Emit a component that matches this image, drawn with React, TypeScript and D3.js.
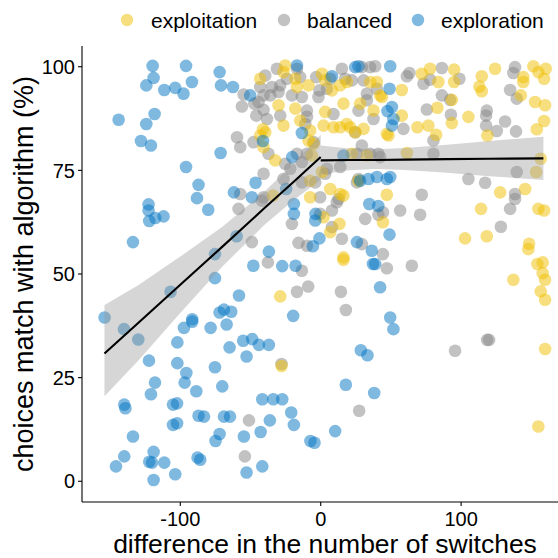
import React from "react";
import * as d3 from "d3";

// ---- data (difference in switches, % match) ----
const groups = ["exploitation", "balanced", "exploration"];
const groupColors = ["#EFC000", "#868686", "#0073C2"];

const exploitationX = [-27.9,16.2,-28.8,137.2,154.3,158.1,158.1,159.8,156.7,159.8,159.8,155,147.9,102.8,118.3,148.4,114.2,155,159.1,145.6,127.8,47.1,44.3,153.4,156.7,72,77.9,95,83.8,95,114.7,113,114.7,124.2,144.3,144.3,151.5,155,159.1,160.3,142.5,152.7,159.8,57.8,43.6,93.4,83.1,93.4,105.2,118.7,153.9,159.1,57.8,68.9,76.7,82.2,48.3,61.4,-43.1,-25.3,-26.5,-18.1,-16.9,-8.7,0.9,3.2,8,18.6,13.9,35.2,42.3,40,-30,-26.5,-18.1,-14.6,-7.5,-8.7,3.2,16.2,2,9.1,13.9,18.6,21,24.6,30.5,28.1,37.6,47.1,-39.5,-40.7,-6.3,-5.1,-32.4,-7.5,0.9,22.2,32.9,26.9,6.8,16.2,-7.5,-34,2,13.9,13.4,6.8,16.2,-41.1,-43.1];
const exploitationY = [27.8,53.4,44.6,48.6,52.4,52.8,50.2,48.6,45.8,43.8,31.9,13.2,56,58.6,59.1,57.3,65.7,65.7,65.3,70.5,69.7,69.1,62.5,74.6,77.8,98.3,99.5,99.3,96.3,96.3,97.7,95.2,94.1,99.5,97.5,96.3,100.1,98.7,97.1,99.5,93.1,91.5,90.7,94.4,92.7,92,90.1,86.4,87.9,83.4,84.9,86.9,88.2,85.4,85.8,83.6,83.4,79.2,97.1,100.3,98.7,97.1,95.1,95.5,98.3,96.7,94.3,96.3,95.5,96.3,93.1,96.3,90.7,85.8,89.9,87,84.6,82.2,89.1,91.1,85.8,85.4,85.4,86.2,85.4,84.2,85,91.1,89.4,83.8,84.2,80.6,78.6,81.4,77.4,72.5,74.6,79,78.6,72.5,70.5,68.9,68.5,68.9,63.7,69.3,62.1,60.1,54,84.9,83.4];

const balancedX = [-51.1,-54,-27.9,-37.6,-13.4,-16.9,-8.9,14.4,17.9,27.4,44.3,47.1,64.9,95.7,119.9,118.5,128.3,134.9,138.4,138.4,72,70.8,56.6,44.3,41.1,105.2,117.1,139.6,61.4,63.2,86.3,77.9,73.2,98.8,138.4,137.2,134.9,139.6,86.3,92.2,75.6,92.7,118.3,117.8,117.8,131.3,125.4,139.1,58.9,80.3,80.3,42.3,-54.9,-56.1,-47.3,-45.9,-40.7,-43.1,-39.5,-31.2,-16.9,-14.6,-24.1,-28.8,-34.7,-35.9,-30,-20.5,-13.4,-3.2,4.4,-0.9,6.8,15.1,17.4,22.2,29.3,32.9,30.5,40,35.2,38.8,-40.7,-38.3,-44.3,-28.8,-9.8,-9.8,-11,-5.1,-1.6,9.1,26.9,32.9,37.6,24.6,-59.6,-57.3,-47.8,-37.2,-16.9,-9.8,-13.4,-25.3,-21.7,-26.5,-40.7,-13.4,-3.9,3.2,4.4,13.9,25.8,29.3,35.2,41.1,26.9,12.7,-0.4,-40.7,-57.3,-58.5,-41.9,-20.5,-0.4,8,11.5,8,15.1,-15.8,-9.8,-49,31.7,29.3,25.8];
const balancedY = [14.7,6,28.3,52.8,50.8,45.7,47,45.7,41.3,17,54.8,51.4,52,31.5,34.1,34.1,61.4,65.7,68.1,69.3,69.1,64.3,65.3,64.9,64.3,72.9,72,74.6,97.7,98.5,99.7,96.9,95.9,97.1,99.9,98.5,94.4,92.3,93.1,92,89.7,88.4,89.4,88.2,85.8,86.8,84.5,84.4,85,82.2,79,78.2,93.3,90.4,91.1,88.2,93.1,95.1,97.9,99.5,99.5,97.5,97.1,95.5,95.1,93.1,93.9,93.1,92.7,97.5,94.7,94.3,97.1,99.5,97.1,96.7,99.9,93.5,96.7,94.7,99.9,100.1,89.6,87.4,91.5,88.2,89.4,87.9,86.2,81.8,92.7,88.6,89.4,91.9,87.4,84.2,83,80.6,81.8,79,79,79,77,76.6,75.4,72.9,74.2,72.1,72.1,74.2,75.4,75.8,79,81,79,79,72.9,68.1,68.5,68.5,69.3,65.7,67.7,62.1,64.5,65.3,67.3,61.3,58.5,57.5,56.8,57.7,63.3,57.2,72.1];

const explorationX = [-119.7,-95.9,-119,-124.2,-91.7,-111.4,-103.6,-97.7,-143.9,-118.3,-124.2,-128,-120.9,-95.9,-87,-88.1,-122.6,-122.6,-122.1,-117.8,-111.9,-133.7,-71.3,-46.4,-61.8,-80.1,-20.3,-19.1,-19.1,-3.7,-5.6,-59.9,-75.3,-36.9,-48,-27.4,-17.9,-75.3,-106.9,-58.2,-153.9,-140.1,-129.9,-91.5,-91.5,-97.4,-68.9,-72,-63.7,-67,-78.4,-19.6,-102.1,-64.9,-55.2,-48.8,-44,-36.9,-52.8,-122.3,-102.1,-75.3,-95.7,-118,-120.9,-96.9,-139.9,-139.1,-105.2,-102.3,-105.2,-102.3,-133.7,-88.6,-87,-139.9,-145.8,-119,-122.1,-120.1,-111.4,-119,-103.6,-87.7,-85.8,-70.1,-83.1,-68.9,-64.6,-41.6,-33.8,-27.4,-21,-19.1,-36.2,-42.8,-54.7,-72,-74.9,-41.6,-52.8,-7.3,-4.4,37.2,38.8,42.3,28.6,33.3,17.9,38.1,10.3,49.5,51.8,36.4,34.6,41,49,49.5,49,50.7,47.5,51.8,50.7,49.5,47.1,-62.5,-50.2,-16.9,8,24.6,26.9,-13.4,-41.1,16.2,40,34,-3.9,-0.9,-49,25.8,28.1,-72,-71,-24.6];
const explorationY = [100.2,100.2,97.3,95.5,96.3,94.4,94.9,93.5,87.2,88.6,86.2,82.1,81,75.8,71.5,68.3,66.8,65.3,62.8,63.5,63.9,57.7,79.2,72,69.7,65.5,78.2,66.9,64.5,64.5,56.7,59.1,54.8,55.4,52,51.9,52,49,45.7,44.8,39.5,36.7,34.2,39.1,38.5,37,41.4,40.7,40.9,37.8,37,39.9,33.5,32.3,33.9,34.3,32.9,32.9,30.1,29.1,28.5,27.5,26.1,23.8,21,23.8,18.5,17.6,18.5,18.8,13.6,14,10.8,21.7,15.8,6,3.6,7.1,4.7,4.5,4.5,0.3,1.7,5.7,5.2,22.9,15.6,15.6,15.6,19.8,19.8,19.8,16.6,13.6,14.7,11.9,10.8,11.4,9.7,3.6,2.1,9.7,9.3,52.4,52.4,46.8,31.6,30.4,23.3,21.3,12.1,39.5,36.7,55.6,66.9,66.4,59.5,100.1,94.7,90.3,89.3,87.4,85.8,73.4,72.9,95.1,93.1,100.3,97.7,99.9,100.1,84,82.1,78.6,73.4,72.9,62.9,58.6,68.5,57.7,72.5,98.7,95.5,70.5];

// ---- piecewise fit with confidence band ----
const fit1X = [-154, -130, -100, -70, -40, -20, 0];
const fit1Y = [30.8, 38.2, 47.4, 56.6, 65.9, 72.0, 78.2];
const fit1Lo = [20.5, 29.1, 40.6, 51.8, 61.9, 67.6, 72.8];
const fit1Hi = [42.5, 47.3, 54.2, 61.4, 69.9, 76.4, 83.6];

const fit2X = [0, 20, 40, 60, 90, 120, 158.6];
const fit2Y = [77.4, 77.5, 77.5, 77.6, 77.7, 77.8, 77.9];
const fit2Lo = [74.0, 75.0, 75.3, 75.1, 74.4, 73.6, 72.7];
const fit2Hi = [81.0, 80.3, 80.1, 80.4, 81.2, 82.1, 83.1];

const xTicks = [-100, 0, 100];
const yTicks = [0, 25, 50, 75, 100];

const W = 558, H = 558;
const FONT = "'Liberation Sans', Arial, Helvetica, sans-serif";

export default function App() {
  const x = d3.scaleLinear().domain([-170, 169]).range([82, 558]);
  const y = d3.scaleLinear().domain([-5, 105]).range([502, 46]);

  const seriesX = [exploitationX, balancedX, explorationX];
  const seriesY = [exploitationY, balancedY, explorationY];
  const drawOrder = [1, 0, 2];

  const band = (xs: number[], lo: number[], hi: number[]) =>
    d3.area<number>()
      .x((d) => x(d))
      .y0((_, i) => y(lo[i]))
      .y1((_, i) => y(hi[i]))(xs) || "";
  const line = (xs: number[], ys: number[]) =>
    d3.line<number>()
      .x((d) => x(d))
      .y((_, i) => y(ys[i]))(xs) || "";

  const legendCx = [127, 284, 418];
  const legendTx = [151, 307, 441];

  return (
    <div style={{ position: "fixed", left: 0, top: 0, width: W, height: H, background: "#fff" }}>
      <svg width={W} height={H} style={{ display: "block", fontFamily: FONT }}>
        <rect width={W} height={H} fill="#ffffff" />
        {drawOrder.map((g) => (
          <g key={g}>
            {seriesX[g].map((vx, i) => (
              <circle key={i} cx={x(vx)} cy={y(seriesY[g][i])} r={6.3}
                fill={groupColors[g]} fillOpacity={0.5} />
            ))}
          </g>
        ))}
        <path d={band(fit1X, fit1Lo, fit1Hi)} fill="#999999" fillOpacity={0.4} />
        <path d={band(fit2X, fit2Lo, fit2Hi)} fill="#999999" fillOpacity={0.4} />
        <path d={line(fit1X, fit1Y)} fill="none" stroke="#000" strokeWidth={2.1} />
        <path d={line(fit2X, fit2Y)} fill="none" stroke="#000" strokeWidth={2.1} />

        <line x1={82} x2={558} y1={502} y2={502} stroke="#000" strokeWidth={1.1} />
        <line x1={82} x2={82} y1={46} y2={502} stroke="#000" strokeWidth={1.1} />
        {xTicks.map((t) => (
          <g key={t}>
            <line x1={x(t)} x2={x(t)} y1={502} y2={506} stroke="#000" strokeWidth={1.1} />
            <text x={x(t)} y={526} textAnchor="middle" fontSize={20} fill="#000">{t}</text>
          </g>
        ))}
        {yTicks.map((t) => (
          <g key={t}>
            <line x1={78} x2={82} y1={y(t)} y2={y(t)} stroke="#000" strokeWidth={1.1} />
            <text x={75} y={y(t)} dy="0.36em" textAnchor="end" fontSize={20} fill="#000">{t}</text>
          </g>
        ))}
        <text x={(82 + 558) / 2 + 5} y={553} textAnchor="middle" fontSize={26.5} fill="#000">
          difference in the number of switches
        </text>
        <text transform={`translate(33,${(46 + 502) / 2}) rotate(-90)`} textAnchor="middle" fontSize={27} fill="#000">
          choices match with algorithm (%)
        </text>

        {groups.map((g, i) => (
          <g key={g}>
            <circle cx={legendCx[i]} cy={20} r={6.2} fill={groupColors[i]} fillOpacity={0.5} />
            <text x={legendTx[i]} y={20} dy="0.36em" fontSize={21} fill="#000">{g}</text>
          </g>
        ))}
      </svg>
    </div>
  );
}
